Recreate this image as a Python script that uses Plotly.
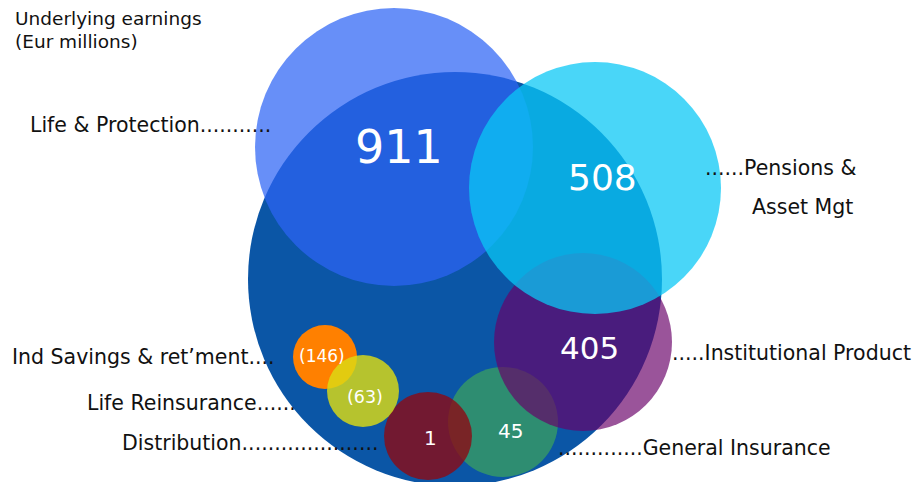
import plotly.graph_objects as go

# ---- data ----
segments = ["Life & Protection", "Pensions & Asset Mgt", "Institutional Product",
            "General Insurance", "Distribution", "Life Reinsurance",
            "Ind Savings & ret\u2019ment"]
earnings = [911, 508, 405, 45, 1, -63, -146]
title_lines = ["Underlying earnings", "(Eur millions)"]

# ---- layout of bubbles (pixel space) ----
group_bubble = dict(cx=455, cy=279, r=207, color="rgb(11,86,166)")
bubble_cx = {"Life & Protection": 394, "Pensions & Asset Mgt": 595, "Institutional Product": 583,
             "General Insurance": 503, "Distribution": 428, "Life Reinsurance": 363,
             "Ind Savings & ret\u2019ment": 325}
bubble_cy = {"Life & Protection": 147, "Pensions & Asset Mgt": 188, "Institutional Product": 342,
             "General Insurance": 422, "Distribution": 436, "Life Reinsurance": 391,
             "Ind Savings & ret\u2019ment": 357}
bubble_r = {"Life & Protection": 139, "Pensions & Asset Mgt": 126, "Institutional Product": 89,
            "General Insurance": 55, "Distribution": 44, "Life Reinsurance": 36,
            "Ind Savings & ret\u2019ment": 32}
bubble_color = {"Life & Protection": "rgba(45,100,245,0.72)",
                "Pensions & Asset Mgt": "rgba(10,200,245,0.74)",
                "Institutional Product": "rgba(105,0,105,0.67)",
                "General Insurance": "rgba(55,155,100,0.8)",
                "Distribution": "rgba(140,10,20,0.8)",
                "Life Reinsurance": "rgba(220,220,20,0.82)",
                "Ind Savings & ret\u2019ment": "rgb(255,128,0)"}
value_pos = {"Life & Protection": (399, 147, 46), "Pensions & Asset Mgt": (602, 177, 36),
             "Institutional Product": (589, 348, 31), "General Insurance": (510, 431, 20),
             "Distribution": (430, 438, 20), "Life Reinsurance": (365, 397, 17.5),
             "Ind Savings & ret\u2019ment": (322, 356, 17)}
draw_order = ["Life & Protection", "General Insurance", "Distribution", "Institutional Product",
              "Pensions & Asset Mgt", "Ind Savings & ret\u2019ment", "Life Reinsurance"]
label_lines = {"Life & Protection": [("Life & Protection...........", 28, 125)],
               "Pensions & Asset Mgt": [("......Pensions &", 703, 168), ("Asset Mgt", 750, 207)],
               "Institutional Product": [(".....Institutional Product", 670, 353)],
               "General Insurance": [(".............General Insurance", 556, 448)],
               "Distribution": [("Distribution.....................", 120, 443)],
               "Life Reinsurance": [("Life Reinsurance......", 85, 403)],
               "Ind Savings & ret\u2019ment": [("Ind Savings & ret\u2019ment....", 10, 357)]}
title_pos = [(13, 18), (13, 41)]

FONT = "DejaVu Sans"
LABEL_SIZE = 20.5

def fmt(v):
    return f"({abs(v)})" if v < 0 else f"{v}"

fig = go.Figure()

fig.add_trace(go.Scatter(x=[group_bubble["cx"]], y=[group_bubble["cy"]], mode="markers",
                         marker=dict(size=2 * group_bubble["r"], color=group_bubble["color"],
                                     line=dict(width=0)),
                         hoverinfo="skip", showlegend=False))

for name in draw_order:
    v = earnings[segments.index(name)]
    fig.add_trace(go.Scatter(x=[bubble_cx[name]], y=[bubble_cy[name]], mode="markers",
                             marker=dict(size=2 * bubble_r[name], color=bubble_color[name],
                                         line=dict(width=0)),
                             name=name, hovertext=f"{name}: {fmt(v)}", hoverinfo="text",
                             showlegend=False))

annotations = []
for name, v in zip(segments, earnings):
    x, y, fs = value_pos[name]
    annotations.append(dict(x=x, y=y, xref="x", yref="y", text=fmt(v), showarrow=False,
                            font=dict(family=FONT, size=fs, color="white"),
                            xanchor="center", yanchor="middle"))
    for txt, lx, ly in label_lines[name]:
        annotations.append(dict(x=lx, y=ly, xref="x", yref="y", text=txt,
                                showarrow=False, font=dict(family=FONT, size=LABEL_SIZE, color="#111"),
                                xanchor="left", yanchor="middle"))

for txt, (tx, ty) in zip(title_lines, title_pos):
    annotations.append(dict(x=tx, y=ty, xref="x", yref="y", text=txt, showarrow=False,
                            font=dict(family=FONT, size=18.5, color="#111"),
                            xanchor="left", yanchor="middle"))

fig.update_layout(width=916, height=482, margin=dict(l=0, r=0, t=0, b=0),
                  paper_bgcolor="white", plot_bgcolor="white",
                  xaxis=dict(range=[0, 916], visible=False, fixedrange=True),
                  yaxis=dict(range=[482, 0], visible=False, fixedrange=True),
                  annotations=annotations, showlegend=False)

fig.write_html("out.html")
